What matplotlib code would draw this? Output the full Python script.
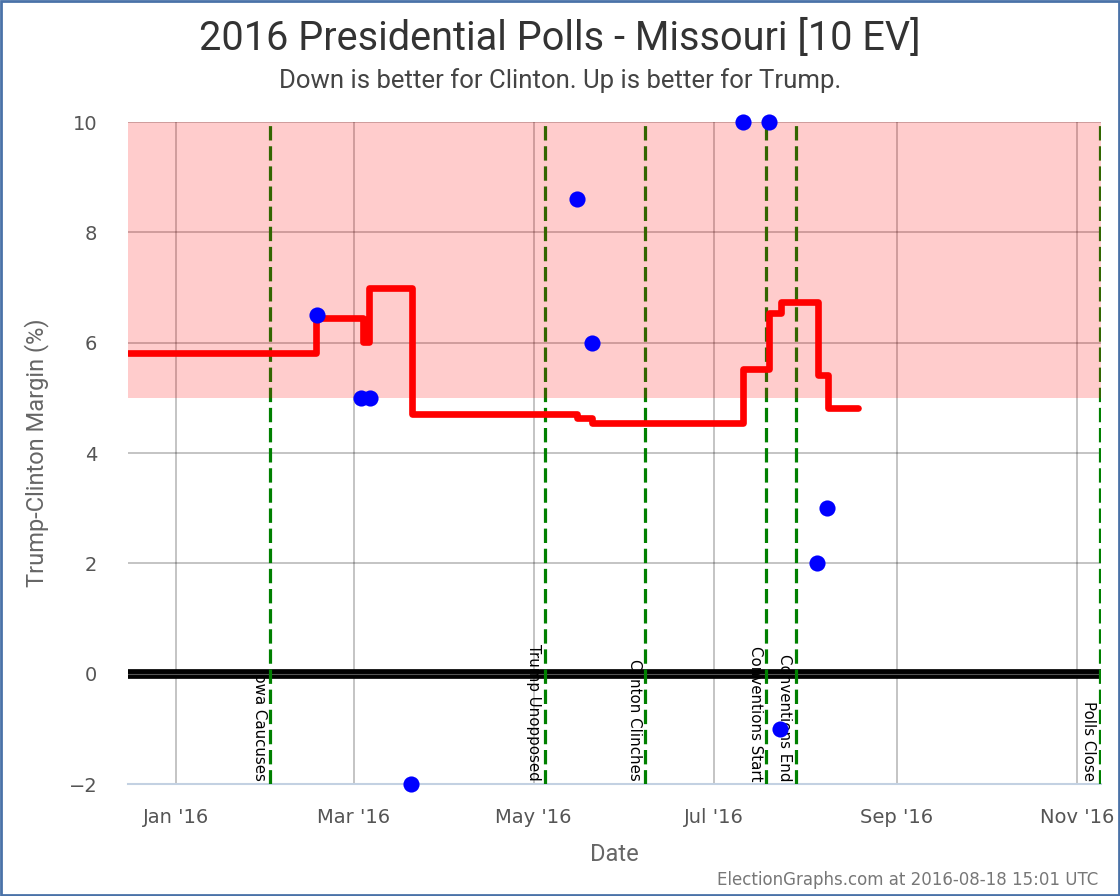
import matplotlib
matplotlib.use("Agg")
import matplotlib.pyplot as plt
import matplotlib.dates as mdates
import pandas as pd

# poll points
poll_dates = ["2016-02-17 12:00", "2016-03-03 12:00", "2016-03-06 12:00", "2016-03-20 12:00",
              "2016-05-15 16:00", "2016-05-20 20:00", "2016-07-11 00:00", "2016-07-19 16:00",
              "2016-07-23 12:00", "2016-08-05 00:00", "2016-08-08 10:00"]
poll_margin = [6.5, 5.0, 5.0, -2.0, 8.6, 6.0, 10.0, 10.0, -1.0, 2.0, 3.0]

# poll average (step)
avg_dates = ["2015-12-15 14:00", "2016-02-17 08:00", "2016-03-04 05:00", "2016-03-06 05:00",
             "2016-03-20 19:00", "2016-05-15 17:00", "2016-05-20 19:00", "2016-07-10 22:00",
             "2016-07-19 17:00", "2016-07-23 19:00", "2016-08-05 07:00", "2016-08-08 17:00",
             "2016-08-18 22:00"]
avg_margin = [5.82, 6.45, 6.02, 6.99, 4.71, 4.63, 4.54, 5.53, 6.54, 6.73, 5.41, 4.82, 4.82]

# events (end of day)
event_dates = ["2016-02-01 20:00", "2016-05-04 20:00", "2016-06-07 20:00", "2016-07-18 20:00",
               "2016-07-28 20:00", "2016-11-08 20:00"]
event_names = ["Iowa Caucuses", "Trump Unopposed", "Clinton Clinches", "Conventions Start",
               "Conventions End", "Polls Close"]

tick_dates = ["2016-01-01", "2016-03-01", "2016-05-01", "2016-07-01", "2016-09-01", "2016-11-01"]

narrow = ["Roboto", "DejaVu Sans"]

fig = plt.figure(figsize=(11.2, 8.96), dpi=100)
ax = fig.add_axes([128/1120, 1-784/896, (1101-128)/1120, (784-122)/896])

xmin = pd.Timestamp("2015-12-15 14:00")
xmax = pd.Timestamp("2016-11-09 05:00")
ax.set_xlim(xmin, xmax)
ax.set_ylim(-2, 10)

# grid
ax.set_yticks([-2, 0, 2, 4, 6, 8, 10])
ax.set_xticks(pd.to_datetime(tick_dates))
ax.xaxis.set_major_formatter(mdates.DateFormatter("%b '%y"))
ax.grid(True, color="black", alpha=0.25, lw=1.3, zorder=1)
ax.set_axisbelow(True)

# zero line
ax.axhline(0, color="black", lw=7, zorder=2)
ax.axhline(0, color="#555555", lw=0.8, zorder=2.1)

# event lines
for d, name in zip(event_dates, event_names):
    t = pd.Timestamp(d)
    ax.axvline(t, color="green", lw=2.3, dashes=(4.5, 1.8), zorder=3)
    ax.annotate(name, xy=(t, -2), xytext=(-2.5, 2), textcoords="offset points",
                rotation=270, ha="right", va="bottom", fontsize=10.8, color="black", zorder=4)

# red band
ax.axhspan(5, 10, color="red", alpha=0.2, lw=0, zorder=5)

# average line
ax.step(pd.to_datetime(avg_dates), avg_margin, where="post", color="red", lw=4.8,
        solid_joinstyle="round", solid_capstyle="round", zorder=6)

# polls
ax.scatter(pd.to_datetime(poll_dates), poll_margin, s=135, color="blue", zorder=7,
           clip_on=False, linewidths=0)

for s in ["top", "left", "right"]:
    ax.spines[s].set_visible(False)
ax.spines["bottom"].set_color("#c3d1e2")
ax.spines["bottom"].set_linewidth(1.5)
ax.tick_params(length=0, labelsize=14, colors="#555555")
ax.tick_params(axis="y", pad=22)
ax.tick_params(axis="x", pad=17)

ax.set_ylabel("Trump-Clinton Margin (%)", fontsize=17, color="#666666", family=narrow, labelpad=14)
ax.set_xlabel("Date", fontsize=17, color="#666666", family=narrow, labelpad=12)

fig.text(0.5, 1-38/896, "2016 Presidential Polls - Missouri [10 EV]", ha="center", va="center",
         fontsize=28.5, color="#333333", family=narrow)
fig.text(0.5, 1-81/896, "Down is better for Clinton. Up is better for Trump.", ha="center", va="center",
         fontsize=18.5, color="#444444", family=narrow)
fig.text(1098/1120, 1-880/896, "ElectionGraphs.com at 2016-08-18 15:01 UTC", ha="right", va="center",
         fontsize=12, color="#777777")

# border
border = plt.Rectangle((0.001, 0.001), 0.998, 0.998, transform=fig.transFigure, fill=False,
                       edgecolor="#4a72a8", lw=2)
fig.patches.append(border)

fig.savefig("out.png", dpi=100)
